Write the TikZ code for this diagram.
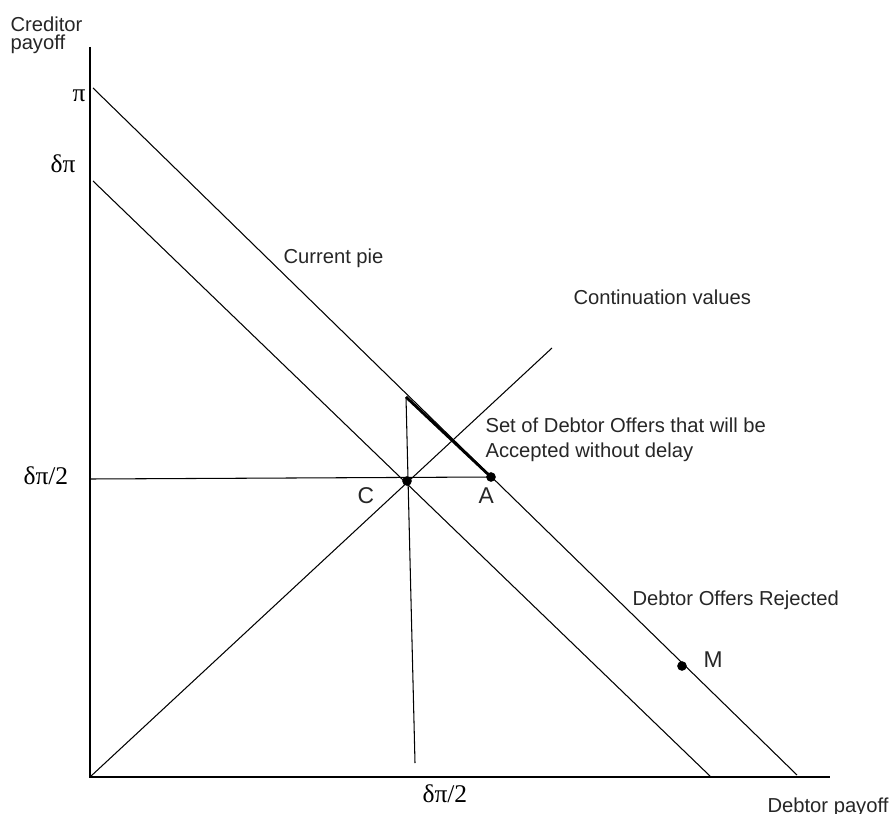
\documentclass[tikz,border=0pt]{standalone}
\usepackage{fontspec}
\setmainfont{Liberation Sans}
\newfontfamily\greekfont{Liberation Serif}
\usetikzlibrary{positioning}

\begin{document}
\begin{tikzpicture}[x=0.02cm, y=-0.02cm, line width=0.6pt,
      every node/.append style={inner sep=0pt, font=\fontsize{11.5}{12}\selectfont},
      axis/.style={line width=0.8pt},
      thick segment/.style={line width=1.6pt}]
    \tikzstyle{word} = [anchor=base west, color=black!85]
    \tikzstyle{greek} = [anchor=base west, font=\greekfont\fontsize{14.5}{15}\selectfont]
    \tikzstyle{point} = [word, font=\fontsize{13}{14}\selectfont]
    \tikzstyle{dot} = [fill=black, circle, minimum size=5.5pt]
    \useasboundingbox (0,0) rectangle (892,814);
    % axes and lines
    \coordinate (O) at (90,777);
    \coordinate (ytop) at (90,47);
    \coordinate (xend) at (830,777);
    \coordinate (pi) at (93,88);
    \coordinate (piend) at (797,775);
    \coordinate (dpi) at (93,181);
    \coordinate (dpiend) at (711,777);
    \coordinate (cont) at (552,348);
    \coordinate (half) at (90,479);
    \coordinate (vtop) at (406,397);
    \coordinate (vbot) at (415,763);
    \node (C) [dot] at (407,481) {};
    \node (A) [dot] at (491,477) {};
    \node (M) [dot] at (682,666) {};
    \draw[axis] (ytop) -- (O) -- (xend);
    \draw (pi) -- (piend);
    \draw (dpi) -- (dpiend);
    \draw (O) -- (cont);
    \draw (half) -- (A.center);
    \draw (vbot) -- (vtop);
    \draw[thick segment] (vtop) -- (A.center);
    % labels
    \node (ylabel) [word] at (10,32) {Creditor};
    \node (ylabel2) [word] at (10,50) {payoff};
    \node (xlabel) [word] at (767,812) {Debtor payoff};
    \node (pilabel) [greek] at (72,102) {π};
    \node (dpilabel) [greek] at (50,173) {δπ};
    \node (yhalf) [greek] at (23,484) {δπ/2};
    \node (xhalf) [greek] at (422,802) {δπ/2};
    \node (pie) [word] at (283,263) {Current pie};
    \node (contlabel) [word] at (573,304) {Continuation values};
    \node (setlabel) [word] at (485,432) {Set of Debtor Offers that will be};
    \node (acclabel) [word] at (485,457) {Accepted without delay};
    \node (rejlabel) [word] at (632,605) {Debtor Offers Rejected};
    \node (Clabel) [point] at (357,503) {C};
    \node (Alabel) [point] at (478,503) {A};
    \node (Mlabel) [point] at (703,667) {M};
\end{tikzpicture}
\end{document}
